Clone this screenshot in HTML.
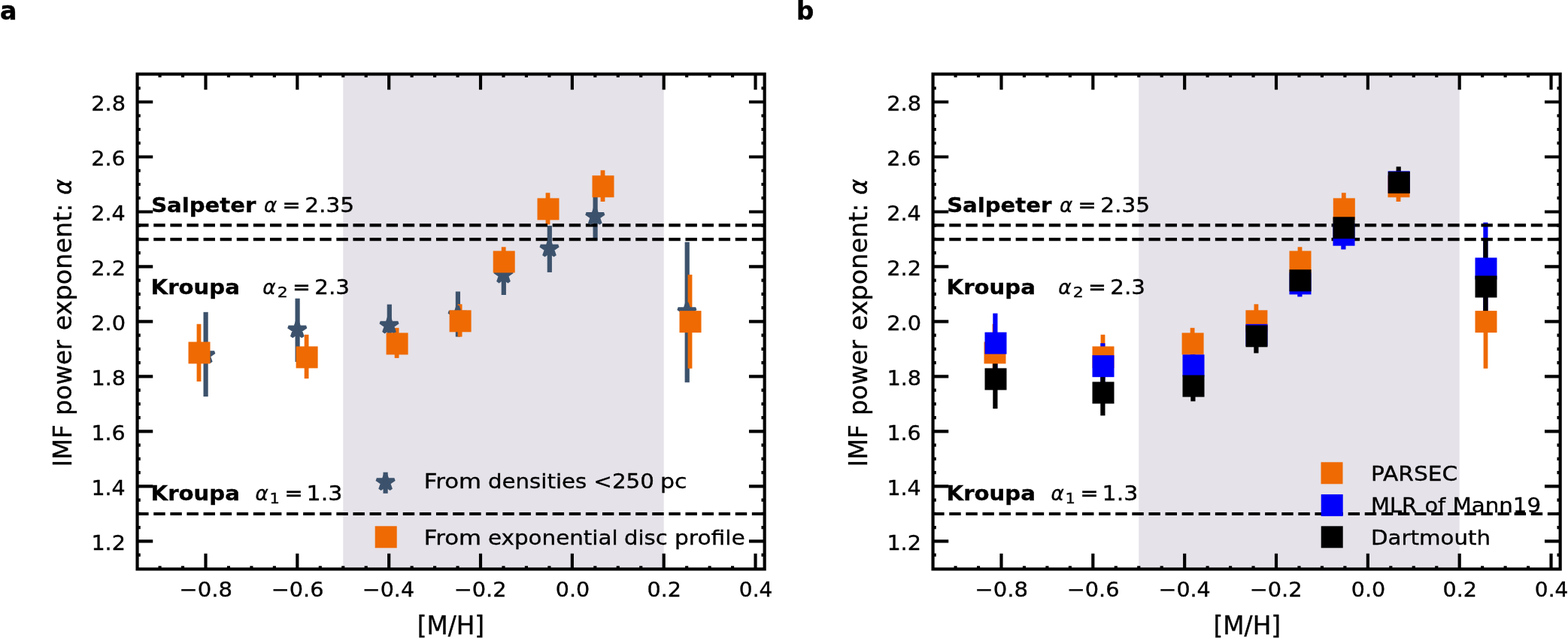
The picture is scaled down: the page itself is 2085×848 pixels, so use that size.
<!DOCTYPE html>
<html lang="en"><head><meta charset="utf-8"><title>IMF power exponent vs [M/H]</title>
<style>html,body{margin:0;padding:0;background:#fff}body{width:2085px;height:848px;overflow:hidden}svg{display:block}text{font-family:"DejaVu Sans","Liberation Sans",sans-serif;fill:#000;stroke:#000;stroke-width:0.35px}</style>
</head><body>
<svg width="2085" height="848" viewBox="0 0 2085 848">
<rect width="2085" height="848" fill="#fff"/>
<g id="panel-a">
<rect x="456.25" y="98.5" width="426.44" height="657.9" fill="#e5e2e9"/>
<rect x="270.5" y="414.8" width="6.2" height="112.3" fill="#3c526c"/>
<rect x="392.5" y="396.7" width="6.2" height="84.3" fill="#3c526c"/>
<rect x="514.7" y="404.6" width="6.2" height="57.8" fill="#3c526c"/>
<rect x="605.8" y="387.5" width="6.2" height="60.1" fill="#3c526c"/>
<rect x="666.7" y="339" width="6.2" height="53" fill="#3c526c"/>
<rect x="727.7" y="300" width="6.2" height="61.9" fill="#3c526c"/>
<rect x="788.5" y="259.3" width="6.2" height="60.6" fill="#3c526c"/>
<rect x="910.6" y="321.7" width="6.2" height="186.6" fill="#3c526c"/>
<rect x="261.6" y="430.7" width="5.8" height="76.4" fill="#ef6a02"/>
<rect x="404.7" y="444.8" width="5.8" height="58.4" fill="#ef6a02"/>
<rect x="524.7" y="435.8" width="5.8" height="40.1" fill="#ef6a02"/>
<rect x="608.7" y="404.3" width="5.8" height="43.3" fill="#ef6a02"/>
<rect x="666.8" y="328.3" width="5.8" height="33.7" fill="#ef6a02"/>
<rect x="725.6" y="256.3" width="5.8" height="42.1" fill="#ef6a02"/>
<rect x="798.6" y="226.3" width="5.8" height="41.7" fill="#ef6a02"/>
<rect x="914.6" y="365.1" width="5.8" height="124.7" fill="#ef6a02"/>
<path d="M182.55 299.3 H1016.65" stroke="#000" stroke-width="4.17" stroke-dasharray="15.43 6.67" stroke-dashoffset="0.4" fill="none"/>
<path d="M182.55 318.2 H1016.65" stroke="#000" stroke-width="4.17" stroke-dasharray="15.43 6.67" stroke-dashoffset="0.4" fill="none"/>
<path d="M182.55 683 H1016.65" stroke="#000" stroke-width="4.17" stroke-dasharray="15.43 6.67" stroke-dashoffset="0.4" fill="none"/>
<polygon transform="translate(273.3 472) scale(1.04 0.98)" points="0,-11.9 -2.67,-3.68 -11.32,-3.68 -4.32,1.4 -6.99,9.63 -0,4.55 6.99,9.63 4.32,1.4 11.32,-3.68 2.67,-3.68" fill="#3c526c" stroke="#3c526c" stroke-width="4.17" stroke-linejoin="bevel"/>
<polygon transform="translate(395.3 438.1) scale(1.04 0.98)" points="0,-11.9 -2.67,-3.68 -11.32,-3.68 -4.32,1.4 -6.99,9.63 -0,4.55 6.99,9.63 4.32,1.4 11.32,-3.68 2.67,-3.68" fill="#3c526c" stroke="#3c526c" stroke-width="4.17" stroke-linejoin="bevel"/>
<polygon transform="translate(517.5 432.3) scale(1.04 0.98)" points="0,-11.9 -2.67,-3.68 -11.32,-3.68 -4.32,1.4 -6.99,9.63 -0,4.55 6.99,9.63 4.32,1.4 11.32,-3.68 2.67,-3.68" fill="#3c526c" stroke="#3c526c" stroke-width="4.17" stroke-linejoin="bevel"/>
<polygon transform="translate(608.6 418.4) scale(1.04 0.98)" points="0,-11.9 -2.67,-3.68 -11.32,-3.68 -4.32,1.4 -6.99,9.63 -0,4.55 6.99,9.63 4.32,1.4 11.32,-3.68 2.67,-3.68" fill="#3c526c" stroke="#3c526c" stroke-width="4.17" stroke-linejoin="bevel"/>
<polygon transform="translate(669.5 365.3) scale(1.04 0.98)" points="0,-11.9 -2.67,-3.68 -11.32,-3.68 -4.32,1.4 -6.99,9.63 -0,4.55 6.99,9.63 4.32,1.4 11.32,-3.68 2.67,-3.68" fill="#3c526c" stroke="#3c526c" stroke-width="4.17" stroke-linejoin="bevel"/>
<polygon transform="translate(730.5 330.5) scale(1.04 0.98)" points="0,-11.9 -2.67,-3.68 -11.32,-3.68 -4.32,1.4 -6.99,9.63 -0,4.55 6.99,9.63 4.32,1.4 11.32,-3.68 2.67,-3.68" fill="#3c526c" stroke="#3c526c" stroke-width="4.17" stroke-linejoin="bevel"/>
<polygon transform="translate(791.3 287.7) scale(1.04 0.98)" points="0,-11.9 -2.67,-3.68 -11.32,-3.68 -4.32,1.4 -6.99,9.63 -0,4.55 6.99,9.63 4.32,1.4 11.32,-3.68 2.67,-3.68" fill="#3c526c" stroke="#3c526c" stroke-width="4.17" stroke-linejoin="bevel"/>
<polygon transform="translate(913.4 414) scale(1.04 0.98)" points="0,-11.9 -2.67,-3.68 -11.32,-3.68 -4.32,1.4 -6.99,9.63 -0,4.55 6.99,9.63 4.32,1.4 11.32,-3.68 2.67,-3.68" fill="#3c526c" stroke="#3c526c" stroke-width="4.17" stroke-linejoin="bevel"/>
<rect x="250.5" y="454.4" width="29" height="29" fill="#ef6a02"/>
<rect x="393.6" y="460.4" width="29" height="29" fill="#ef6a02"/>
<rect x="513.6" y="442.4" width="29" height="29" fill="#ef6a02"/>
<rect x="597.6" y="412.3" width="29" height="29" fill="#ef6a02"/>
<rect x="655.7" y="333.5" width="29" height="29" fill="#ef6a02"/>
<rect x="714.5" y="263.4" width="29" height="29" fill="#ef6a02"/>
<rect x="787.5" y="233.3" width="29" height="29" fill="#ef6a02"/>
<rect x="903.5" y="413.1" width="29" height="29" fill="#ef6a02"/>
<rect x="509.5" y="627.7" width="6.2" height="28.1" fill="#3c526c"/>
<polygon transform="translate(512.6 641) scale(1.04 0.98)" points="0,-11.9 -2.67,-3.68 -11.32,-3.68 -4.32,1.4 -6.99,9.63 -0,4.55 6.99,9.63 4.32,1.4 11.32,-3.68 2.67,-3.68" fill="#3c526c" stroke="#3c526c" stroke-width="4.17" stroke-linejoin="bevel"/>
<rect x="498.7" y="699.3" width="29" height="29" fill="#ef6a02"/>
<path d="M273.49 756.4 v-20.7 M273.49 98.5 v20.7 M395.33 756.4 v-20.7 M395.33 98.5 v20.7 M517.17 756.4 v-20.7 M517.17 98.5 v20.7 M639.01 756.4 v-20.7 M639.01 98.5 v20.7 M760.85 756.4 v-20.7 M760.85 98.5 v20.7 M882.69 756.4 v-20.7 M882.69 98.5 v20.7 M1004.53 756.4 v-20.7 M1004.53 98.5 v20.7 M182.55 719.34 h20.7 M1016.65 719.34 h-20.7 M182.55 646.36 h20.7 M1016.65 646.36 h-20.7 M182.55 573.38 h20.7 M1016.65 573.38 h-20.7 M182.55 500.4 h20.7 M1016.65 500.4 h-20.7 M182.55 427.42 h20.7 M1016.65 427.42 h-20.7 M182.55 354.44 h20.7 M1016.65 354.44 h-20.7 M182.55 281.46 h20.7 M1016.65 281.46 h-20.7 M182.55 208.48 h20.7 M1016.65 208.48 h-20.7 M182.55 135.5 h20.7 M1016.65 135.5 h-20.7 M212.57 756.4 v-4.2 M212.57 98.5 v4.2 M243.03 756.4 v-4.2 M243.03 98.5 v4.2 M303.95 756.4 v-4.2 M303.95 98.5 v4.2 M334.41 756.4 v-4.2 M334.41 98.5 v4.2 M364.87 756.4 v-4.2 M364.87 98.5 v4.2 M425.79 756.4 v-4.2 M425.79 98.5 v4.2 M456.25 756.4 v-4.2 M456.25 98.5 v4.2 M486.71 756.4 v-4.2 M486.71 98.5 v4.2 M547.63 756.4 v-4.2 M547.63 98.5 v4.2 M578.09 756.4 v-4.2 M578.09 98.5 v4.2 M608.55 756.4 v-4.2 M608.55 98.5 v4.2 M669.47 756.4 v-4.2 M669.47 98.5 v4.2 M699.93 756.4 v-4.2 M699.93 98.5 v4.2 M730.39 756.4 v-4.2 M730.39 98.5 v4.2 M791.31 756.4 v-4.2 M791.31 98.5 v4.2 M821.77 756.4 v-4.2 M821.77 98.5 v4.2 M852.23 756.4 v-4.2 M852.23 98.5 v4.2 M913.15 756.4 v-4.2 M913.15 98.5 v4.2 M943.61 756.4 v-4.2 M943.61 98.5 v4.2 M974.07 756.4 v-4.2 M974.07 98.5 v4.2 M182.55 737.58 h4.2 M1016.65 737.58 h-4.2 M182.55 701.09 h4.2 M1016.65 701.09 h-4.2 M182.55 682.85 h4.2 M1016.65 682.85 h-4.2 M182.55 664.6 h4.2 M1016.65 664.6 h-4.2 M182.55 628.11 h4.2 M1016.65 628.11 h-4.2 M182.55 609.87 h4.2 M1016.65 609.87 h-4.2 M182.55 591.62 h4.2 M1016.65 591.62 h-4.2 M182.55 555.13 h4.2 M1016.65 555.13 h-4.2 M182.55 536.89 h4.2 M1016.65 536.89 h-4.2 M182.55 518.64 h4.2 M1016.65 518.64 h-4.2 M182.55 482.15 h4.2 M1016.65 482.15 h-4.2 M182.55 463.91 h4.2 M1016.65 463.91 h-4.2 M182.55 445.66 h4.2 M1016.65 445.66 h-4.2 M182.55 409.17 h4.2 M1016.65 409.17 h-4.2 M182.55 390.93 h4.2 M1016.65 390.93 h-4.2 M182.55 372.68 h4.2 M1016.65 372.68 h-4.2 M182.55 336.19 h4.2 M1016.65 336.19 h-4.2 M182.55 317.95 h4.2 M1016.65 317.95 h-4.2 M182.55 299.7 h4.2 M1016.65 299.7 h-4.2 M182.55 263.21 h4.2 M1016.65 263.21 h-4.2 M182.55 244.97 h4.2 M1016.65 244.97 h-4.2 M182.55 226.72 h4.2 M1016.65 226.72 h-4.2 M182.55 190.23 h4.2 M1016.65 190.23 h-4.2 M182.55 171.99 h4.2 M1016.65 171.99 h-4.2 M182.55 153.74 h4.2 M1016.65 153.74 h-4.2 M182.55 117.25 h4.2 M1016.65 117.25 h-4.2" stroke="#000" stroke-width="4.17" fill="none"/>
<rect x="182.55" y="98.5" width="834.1" height="657.9" fill="none" stroke="#000" stroke-width="4.17"/>
<text transform="translate(95.3 620.53) rotate(-90) scale(0.9763 1)" font-size="33.2">IMF</text>
<text transform="translate(95.3 551.98) rotate(-90) scale(0.9760 1)" font-size="33.2">power</text>
<text transform="translate(95.3 439.26) rotate(-90) scale(1.0080 1)" font-size="33.2">exponent:</text>
<text transform="translate(95.3 259.1) rotate(-90) scale(0.9630 1)" font-size="33.2" font-style="oblique">α</text>
<text transform="translate(238.26 793.1) scale(1.0699 1)" font-size="27.2">−0.8</text>
<text transform="translate(360.69 793.1) scale(1.0575 1)" font-size="27.2">−0.6</text>
<text transform="translate(481.82 793.1) scale(1.0484 1)" font-size="27.2">−0.4</text>
<text transform="translate(603.69 793.1) scale(1.0584 1)" font-size="27.2">−0.2</text>
<text transform="translate(738.82 793.1) scale(1.0500 1)" font-size="27.2">0.0</text>
<text transform="translate(860.52 793.1) scale(1.0522 1)" font-size="27.2">0.2</text>
<text transform="translate(982.86 793.1) scale(1.0272 1)" font-size="27.2">0.4</text>
<text transform="translate(121.41 731.14) scale(1.0526 1)" font-size="27.2">1.2</text>
<text transform="translate(121.42 658.16) scale(1.0471 1)" font-size="27.2">1.4</text>
<text transform="translate(121.42 585.18) scale(1.0462 1)" font-size="27.2">1.6</text>
<text transform="translate(121.4 512.2) scale(1.0555 1)" font-size="27.2">1.8</text>
<text transform="translate(121.25 439.22) scale(1.0591 1)" font-size="27.2">2.0</text>
<text transform="translate(121.25 366.24) scale(1.0564 1)" font-size="27.2">2.2</text>
<text transform="translate(121.26 293.26) scale(1.0509 1)" font-size="27.2">2.4</text>
<text transform="translate(121.26 220.28) scale(1.0500 1)" font-size="27.2">2.6</text>
<text transform="translate(121.25 147.3) scale(1.0591 1)" font-size="27.2">2.8</text>
<text transform="translate(554.69 842.5) scale(0.9853 1)" font-size="33.2">[M/H]</text>
<text transform="translate(201.13 281.6) scale(1.0713 1)" font-size="27.2" font-weight="bold">Salpeter</text>
<text transform="translate(350.94 281.6) scale(0.9612 1)" font-size="27.2" font-style="oblique">α</text>
<text transform="translate(375.33 281.6) scale(1.0783 1)" font-size="27.2">=</text>
<text transform="translate(405.2 281.6) scale(1.0867 1)" font-size="27.2">2.35</text>
<text transform="translate(200.59 391) scale(1.0729 1)" font-size="27.2" font-weight="bold">Kroupa</text>
<text transform="translate(349.33 391) scale(0.9672 1)" font-size="27.2" font-style="oblique">α</text>
<text transform="translate(368.85 395.4) scale(1.1568 1)" font-size="19.04">2</text>
<text transform="translate(388.91 391) scale(1.0493 1)" font-size="27.2">=</text>
<text transform="translate(418.31 391) scale(1.0785 1)" font-size="27.2">2.3</text>
<text transform="translate(200.59 664.9) scale(1.0729 1)" font-size="27.2" font-weight="bold">Kroupa</text>
<text transform="translate(339.44 664.9) scale(0.9612 1)" font-size="27.2" font-style="oblique">α</text>
<text transform="translate(358.39 669.1) scale(1.1059 1)" font-size="19.04">1</text>
<text transform="translate(378.33 664.9) scale(1.0783 1)" font-size="27.2">=</text>
<text transform="translate(407.56 664.9) scale(1.1065 1)" font-size="27.2">1.3</text>
<text transform="translate(563.77 648.9) scale(1.1331 1)" font-size="27.2">From</text>
<text transform="translate(649.06 648.9) scale(1.0747 1)" font-size="27.2">densities</text>
<text transform="translate(789.33 648.9) scale(1.0790 1)" font-size="27.2">&lt;250</text>
<text transform="translate(877.92 648.9) scale(1.1018 1)" font-size="27.2">pc</text>
<text transform="translate(563.77 724) scale(1.1331 1)" font-size="27.2">From</text>
<text transform="translate(649.05 724) scale(1.0797 1)" font-size="27.2">exponential</text>
<text transform="translate(829.96 724) scale(1.0693 1)" font-size="27.2">disc</text>
<text transform="translate(897.05 724) scale(1.0906 1)" font-size="27.2">profile</text>
<text transform="translate(-0.07 26.4) scale(1.0162 1)" font-size="32.9" font-weight="bold">a</text>
</g>
<g id="panel-b">
<rect x="1514.25" y="98.5" width="426.44" height="657.9" fill="#e5e2e9"/>
<rect x="1319.6" y="430.7" width="5.8" height="76.4" fill="#ef6a02"/>
<rect x="1463.6" y="444.8" width="5.8" height="58.4" fill="#ef6a02"/>
<rect x="1582.7" y="435.8" width="5.8" height="40.1" fill="#ef6a02"/>
<rect x="1667.5" y="404.3" width="5.8" height="43.3" fill="#ef6a02"/>
<rect x="1725.6" y="328.3" width="5.8" height="33.7" fill="#ef6a02"/>
<rect x="1783.9" y="256.3" width="5.8" height="42.1" fill="#ef6a02"/>
<rect x="1856.6" y="226.3" width="5.8" height="41.7" fill="#ef6a02"/>
<rect x="1972.6" y="365.1" width="5.8" height="124.7" fill="#ef6a02"/>
<rect x="1320.3" y="416.5" width="6.2" height="78.5" fill="#0000fb"/>
<rect x="1463.3" y="456.2" width="6.2" height="58.8" fill="#0000fb"/>
<rect x="1583.3" y="462" width="6.2" height="48" fill="#0000fb"/>
<rect x="1667.3" y="425" width="6.2" height="30" fill="#0000fb"/>
<rect x="1725.3" y="360" width="6.2" height="34.4" fill="#0000fb"/>
<rect x="1783.3" y="292" width="6.2" height="39.5" fill="#0000fb"/>
<rect x="1856.5" y="230" width="6.2" height="25" fill="#0000fb"/>
<rect x="1972.3" y="295.7" width="6.2" height="122.3" fill="#0000fb"/>
<rect x="1320.3" y="464.6" width="6.2" height="78.6" fill="#000000"/>
<rect x="1463.3" y="491.6" width="6.2" height="60.8" fill="#000000"/>
<rect x="1583.3" y="493" width="6.2" height="40.4" fill="#000000"/>
<rect x="1667.3" y="425" width="6.2" height="44.4" fill="#000000"/>
<rect x="1725.3" y="360" width="6.2" height="28" fill="#000000"/>
<rect x="1783.3" y="290" width="6.2" height="28" fill="#000000"/>
<rect x="1856.6" y="221.5" width="6.2" height="38.5" fill="#000000"/>
<rect x="1972.3" y="318.8" width="6.2" height="122.2" fill="#000000"/>
<path d="M1240.55 299.3 H2074.65" stroke="#000" stroke-width="4.17" stroke-dasharray="15.43 6.67" stroke-dashoffset="0.4" fill="none"/>
<path d="M1240.55 318.2 H2074.65" stroke="#000" stroke-width="4.17" stroke-dasharray="15.43 6.67" stroke-dashoffset="0.4" fill="none"/>
<path d="M1240.55 683 H2074.65" stroke="#000" stroke-width="4.17" stroke-dasharray="15.43 6.67" stroke-dashoffset="0.4" fill="none"/>
<rect x="1308.5" y="454.4" width="29" height="29" fill="#ef6a02"/>
<rect x="1452.5" y="460.4" width="29" height="29" fill="#ef6a02"/>
<rect x="1571.6" y="442.4" width="29" height="29" fill="#ef6a02"/>
<rect x="1656.4" y="412.3" width="29" height="29" fill="#ef6a02"/>
<rect x="1714.5" y="333.5" width="29" height="29" fill="#ef6a02"/>
<rect x="1772.8" y="263.4" width="29" height="29" fill="#ef6a02"/>
<rect x="1845.5" y="233.3" width="29" height="29" fill="#ef6a02"/>
<rect x="1961.5" y="413.1" width="29" height="29" fill="#ef6a02"/>
<rect x="1309.5" y="441.6" width="29" height="29" fill="#0000fb"/>
<rect x="1452.5" y="472.2" width="29" height="29" fill="#0000fb"/>
<rect x="1572.5" y="471.3" width="29" height="29" fill="#0000fb"/>
<rect x="1656.5" y="430.8" width="29" height="29" fill="#0000fb"/>
<rect x="1714.5" y="362.4" width="29" height="29" fill="#0000fb"/>
<rect x="1772.5" y="297.7" width="29" height="29" fill="#0000fb"/>
<rect x="1845.7" y="227.4" width="29" height="29" fill="#0000fb"/>
<rect x="1961.5" y="342.5" width="29" height="29" fill="#0000fb"/>
<rect x="1309.5" y="489.4" width="29" height="29" fill="#000000"/>
<rect x="1452.5" y="507.5" width="29" height="29" fill="#000000"/>
<rect x="1572.5" y="498.6" width="29" height="29" fill="#000000"/>
<rect x="1656.5" y="432.3" width="29" height="29" fill="#000000"/>
<rect x="1714.5" y="358.3" width="29" height="29" fill="#000000"/>
<rect x="1772.5" y="288.3" width="29" height="29" fill="#000000"/>
<rect x="1845.8" y="228.1" width="29" height="29" fill="#000000"/>
<rect x="1961.5" y="366.5" width="29" height="29" fill="#000000"/>
<rect x="1756.5" y="614.3" width="29" height="29" fill="#ef6a02"/>
<rect x="1756.7" y="657.1" width="29" height="29" fill="#0000fb"/>
<rect x="1756.7" y="699.3" width="29" height="29" fill="#000000"/>
<path d="M1331.49 756.4 v-20.7 M1331.49 98.5 v20.7 M1453.33 756.4 v-20.7 M1453.33 98.5 v20.7 M1575.17 756.4 v-20.7 M1575.17 98.5 v20.7 M1697.01 756.4 v-20.7 M1697.01 98.5 v20.7 M1818.85 756.4 v-20.7 M1818.85 98.5 v20.7 M1940.69 756.4 v-20.7 M1940.69 98.5 v20.7 M2062.53 756.4 v-20.7 M2062.53 98.5 v20.7 M1240.55 719.34 h20.7 M2074.65 719.34 h-20.7 M1240.55 646.36 h20.7 M2074.65 646.36 h-20.7 M1240.55 573.38 h20.7 M2074.65 573.38 h-20.7 M1240.55 500.4 h20.7 M2074.65 500.4 h-20.7 M1240.55 427.42 h20.7 M2074.65 427.42 h-20.7 M1240.55 354.44 h20.7 M2074.65 354.44 h-20.7 M1240.55 281.46 h20.7 M2074.65 281.46 h-20.7 M1240.55 208.48 h20.7 M2074.65 208.48 h-20.7 M1240.55 135.5 h20.7 M2074.65 135.5 h-20.7 M1270.57 756.4 v-4.2 M1270.57 98.5 v4.2 M1301.03 756.4 v-4.2 M1301.03 98.5 v4.2 M1361.95 756.4 v-4.2 M1361.95 98.5 v4.2 M1392.41 756.4 v-4.2 M1392.41 98.5 v4.2 M1422.87 756.4 v-4.2 M1422.87 98.5 v4.2 M1483.79 756.4 v-4.2 M1483.79 98.5 v4.2 M1514.25 756.4 v-4.2 M1514.25 98.5 v4.2 M1544.71 756.4 v-4.2 M1544.71 98.5 v4.2 M1605.63 756.4 v-4.2 M1605.63 98.5 v4.2 M1636.09 756.4 v-4.2 M1636.09 98.5 v4.2 M1666.55 756.4 v-4.2 M1666.55 98.5 v4.2 M1727.47 756.4 v-4.2 M1727.47 98.5 v4.2 M1757.93 756.4 v-4.2 M1757.93 98.5 v4.2 M1788.39 756.4 v-4.2 M1788.39 98.5 v4.2 M1849.31 756.4 v-4.2 M1849.31 98.5 v4.2 M1879.77 756.4 v-4.2 M1879.77 98.5 v4.2 M1910.23 756.4 v-4.2 M1910.23 98.5 v4.2 M1971.15 756.4 v-4.2 M1971.15 98.5 v4.2 M2001.61 756.4 v-4.2 M2001.61 98.5 v4.2 M2032.07 756.4 v-4.2 M2032.07 98.5 v4.2 M1240.55 737.58 h4.2 M2074.65 737.58 h-4.2 M1240.55 701.09 h4.2 M2074.65 701.09 h-4.2 M1240.55 682.85 h4.2 M2074.65 682.85 h-4.2 M1240.55 664.6 h4.2 M2074.65 664.6 h-4.2 M1240.55 628.11 h4.2 M2074.65 628.11 h-4.2 M1240.55 609.87 h4.2 M2074.65 609.87 h-4.2 M1240.55 591.62 h4.2 M2074.65 591.62 h-4.2 M1240.55 555.13 h4.2 M2074.65 555.13 h-4.2 M1240.55 536.89 h4.2 M2074.65 536.89 h-4.2 M1240.55 518.64 h4.2 M2074.65 518.64 h-4.2 M1240.55 482.15 h4.2 M2074.65 482.15 h-4.2 M1240.55 463.91 h4.2 M2074.65 463.91 h-4.2 M1240.55 445.66 h4.2 M2074.65 445.66 h-4.2 M1240.55 409.17 h4.2 M2074.65 409.17 h-4.2 M1240.55 390.93 h4.2 M2074.65 390.93 h-4.2 M1240.55 372.68 h4.2 M2074.65 372.68 h-4.2 M1240.55 336.19 h4.2 M2074.65 336.19 h-4.2 M1240.55 317.95 h4.2 M2074.65 317.95 h-4.2 M1240.55 299.7 h4.2 M2074.65 299.7 h-4.2 M1240.55 263.21 h4.2 M2074.65 263.21 h-4.2 M1240.55 244.97 h4.2 M2074.65 244.97 h-4.2 M1240.55 226.72 h4.2 M2074.65 226.72 h-4.2 M1240.55 190.23 h4.2 M2074.65 190.23 h-4.2 M1240.55 171.99 h4.2 M2074.65 171.99 h-4.2 M1240.55 153.74 h4.2 M2074.65 153.74 h-4.2 M1240.55 117.25 h4.2 M2074.65 117.25 h-4.2" stroke="#000" stroke-width="4.17" fill="none"/>
<rect x="1240.55" y="98.5" width="834.1" height="657.9" fill="none" stroke="#000" stroke-width="4.17"/>
<text transform="translate(1153.3 620.53) rotate(-90) scale(0.9763 1)" font-size="33.2">IMF</text>
<text transform="translate(1153.3 551.98) rotate(-90) scale(0.9760 1)" font-size="33.2">power</text>
<text transform="translate(1153.3 439.26) rotate(-90) scale(1.0080 1)" font-size="33.2">exponent:</text>
<text transform="translate(1153.3 259.1) rotate(-90) scale(0.9630 1)" font-size="33.2" font-style="oblique">α</text>
<text transform="translate(1296.26 793.1) scale(1.0699 1)" font-size="27.2">−0.8</text>
<text transform="translate(1418.69 793.1) scale(1.0575 1)" font-size="27.2">−0.6</text>
<text transform="translate(1540.52 793.1) scale(1.0484 1)" font-size="27.2">−0.4</text>
<text transform="translate(1661.69 793.1) scale(1.0584 1)" font-size="27.2">−0.2</text>
<text transform="translate(1796.83 793.1) scale(1.0500 1)" font-size="27.2">0.0</text>
<text transform="translate(1918.52 793.1) scale(1.0522 1)" font-size="27.2">0.2</text>
<text transform="translate(2040.86 793.1) scale(1.0272 1)" font-size="27.2">0.4</text>
<text transform="translate(1179.41 731.14) scale(1.0526 1)" font-size="27.2">1.2</text>
<text transform="translate(1179.42 658.16) scale(1.0471 1)" font-size="27.2">1.4</text>
<text transform="translate(1179.42 585.18) scale(1.0462 1)" font-size="27.2">1.6</text>
<text transform="translate(1179.4 512.2) scale(1.0555 1)" font-size="27.2">1.8</text>
<text transform="translate(1179.25 439.22) scale(1.0591 1)" font-size="27.2">2.0</text>
<text transform="translate(1179.25 366.24) scale(1.0564 1)" font-size="27.2">2.2</text>
<text transform="translate(1179.26 293.26) scale(1.0509 1)" font-size="27.2">2.4</text>
<text transform="translate(1179.26 220.28) scale(1.0500 1)" font-size="27.2">2.6</text>
<text transform="translate(1179.25 147.3) scale(1.0591 1)" font-size="27.2">2.8</text>
<text transform="translate(1613.59 842.5) scale(0.9865 1)" font-size="33.2">[M/H]</text>
<text transform="translate(1259.13 281.6) scale(1.0713 1)" font-size="27.2" font-weight="bold">Salpeter</text>
<text transform="translate(1408.94 281.6) scale(0.9612 1)" font-size="27.2" font-style="oblique">α</text>
<text transform="translate(1433.33 281.6) scale(1.0783 1)" font-size="27.2">=</text>
<text transform="translate(1463.2 281.6) scale(1.0867 1)" font-size="27.2">2.35</text>
<text transform="translate(1258.59 391) scale(1.0729 1)" font-size="27.2" font-weight="bold">Kroupa</text>
<text transform="translate(1407.33 391) scale(0.9672 1)" font-size="27.2" font-style="oblique">α</text>
<text transform="translate(1426.85 395.4) scale(1.1568 1)" font-size="19.04">2</text>
<text transform="translate(1446.91 391) scale(1.0493 1)" font-size="27.2">=</text>
<text transform="translate(1476.31 391) scale(1.0785 1)" font-size="27.2">2.3</text>
<text transform="translate(1258.59 664.9) scale(1.0729 1)" font-size="27.2" font-weight="bold">Kroupa</text>
<text transform="translate(1397.44 664.9) scale(0.9612 1)" font-size="27.2" font-style="oblique">α</text>
<text transform="translate(1416.39 669.1) scale(1.1059 1)" font-size="19.04">1</text>
<text transform="translate(1436.33 664.9) scale(1.0783 1)" font-size="27.2">=</text>
<text transform="translate(1465.56 664.9) scale(1.1065 1)" font-size="27.2">1.3</text>
<text transform="translate(1822.97 638.8) scale(1.0919 1)" font-size="27.2">PARSEC</text>
<text transform="translate(1823.05 681.1) scale(1.0606 1)" font-size="27.2">MLR</text>
<text transform="translate(1894.47 681.1) scale(1.0602 1)" font-size="27.2">of</text>
<text transform="translate(1931.4 681.1) scale(1.0790 1)" font-size="27.2">Mann19</text>
<text transform="translate(1823.01 723.6) scale(1.0769 1)" font-size="27.2">Dartmouth</text>
<text transform="translate(1059.02 26.4) scale(0.9924 1)" font-size="32.9" font-weight="bold">b</text>
</g>
</svg></body></html>
